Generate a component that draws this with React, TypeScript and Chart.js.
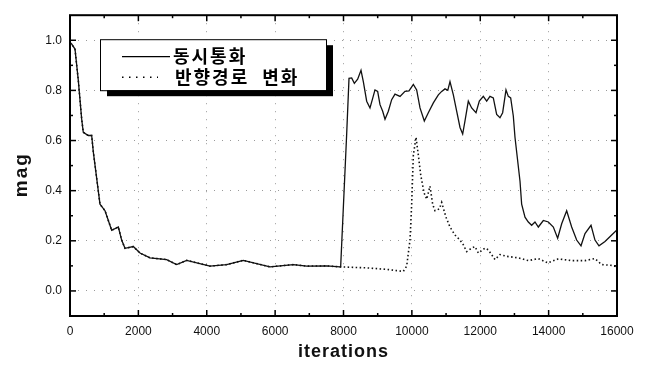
import React, { useEffect, useRef } from 'react';
import { Chart, registerables } from 'chart.js';

Chart.register(...registerables);

// ---- data ----
const seriesNames = ['동시통화', '반향경로 변화'];
const xTitle = 'iterations';
const yTitle = 'mag';

// common start (both series coincide before ~7900 iterations)
const xStart = [0, 49, 146, 243, 342, 389, 535, 634, 682, 780, 877, 1024, 1219, 1414, 1511, 1609, 1852, 2048, 2340, 2828, 3120, 3413, 4095, 4583, 5069, 5850, 6532, 6923, 7500, 7898];
const yStart = [0.99, 0.985, 0.965, 0.84, 0.685, 0.633, 0.62, 0.62, 0.555, 0.45, 0.346, 0.32, 0.242, 0.255, 0.203, 0.17, 0.177, 0.151, 0.132, 0.125, 0.105, 0.122, 0.099, 0.105, 0.122, 0.096, 0.105, 0.099, 0.1, 0.096];

// 동시통화 (solid) after the jump
const xSolid = [7918, 8093, 8161, 8239, 8317, 8414, 8512, 8580, 8678, 8775, 8843, 8921, 8999, 9068, 9146, 9214, 9311, 9409, 9506, 9653, 9799, 9916, 10043, 10140, 10238, 10364, 10481, 10628, 10774, 10872, 10969, 11050, 11115, 11213, 11310, 11408, 11486, 11554, 11651, 11749, 11876, 11973, 12090, 12188, 12285, 12382, 12480, 12577, 12655, 12753, 12821, 12890, 12967, 13016, 13163, 13211, 13309, 13406, 13504, 13601, 13699, 13845, 13992, 14138, 14264, 14382, 14528, 14674, 14820, 14947, 15064, 15240, 15356, 15473, 15649, 15844, 15990];
const ySolid = [0.1, 0.626, 0.848, 0.85, 0.828, 0.845, 0.88, 0.835, 0.757, 0.73, 0.763, 0.802, 0.796, 0.743, 0.717, 0.685, 0.717, 0.763, 0.785, 0.776, 0.796, 0.798, 0.824, 0.802, 0.73, 0.678, 0.711, 0.75, 0.782, 0.796, 0.806, 0.8, 0.835, 0.782, 0.717, 0.652, 0.626, 0.678, 0.757, 0.73, 0.711, 0.757, 0.776, 0.757, 0.776, 0.77, 0.704, 0.691, 0.711, 0.802, 0.776, 0.77, 0.698, 0.613, 0.4375, 0.346, 0.294, 0.275, 0.262, 0.275, 0.255, 0.281, 0.275, 0.255, 0.21, 0.268, 0.32, 0.255, 0.203, 0.18, 0.229, 0.262, 0.203, 0.18, 0.197, 0.223, 0.242];

// 반향경로 변화 (dotted) after the common part
const xDot = [8678, 9262, 9750, 9848, 9945, 9994, 10043, 10121, 10189, 10257, 10355, 10433, 10530, 10608, 10676, 10803, 10872, 10998, 11115, 11261, 11408, 11505, 11603, 11749, 11846, 11944, 12139, 12236, 12431, 12577, 12773, 13114, 13406, 13699, 13972, 14284, 14674, 15064, 15356, 15552, 15844, 15990];
const yDot = [0.092, 0.086, 0.078, 0.099, 0.203, 0.346, 0.542, 0.613, 0.542, 0.464, 0.392, 0.366, 0.418, 0.346, 0.32, 0.327, 0.353, 0.294, 0.255, 0.223, 0.203, 0.184, 0.157, 0.171, 0.177, 0.151, 0.171, 0.164, 0.125, 0.145, 0.138, 0.132, 0.121, 0.129, 0.112, 0.128, 0.121, 0.121, 0.129, 0.105, 0.102, 0.096];

const xTicks = [0, 2000, 4000, 6000, 8000, 10000, 12000, 14000, 16000];
const xMinor = [1000, 3000, 5000, 7000, 9000, 11000, 13000, 15000];
const yTicks = [0, 0.2, 0.4, 0.6, 0.8, 1.0];
const yMinor = [0.1, 0.3, 0.5, 0.7, 0.9];

const pts = (xs: number[], ys: number[]) => xs.map((x, i) => ({ x, y: ys[i] }));

const titleFont = 'bold 18px "Liberation Sans", Arial, sans-serif';

const framePlugin = {
  id: 'frame',
  afterDraw(chart: any) {
    const { ctx, chartArea: a, scales } = chart;
    const xs = scales.x;
    const ys = scales.y;
    ctx.save();
    ctx.strokeStyle = '#000';
    ctx.lineWidth = 1.5;
    const tick = (x1: number, y1: number, x2: number, y2: number) => {
      ctx.beginPath();
      ctx.moveTo(x1, y1);
      ctx.lineTo(x2, y2);
      ctx.stroke();
    };
    xTicks.forEach((v) => {
      const px = xs.getPixelForValue(v);
      tick(px, a.bottom, px, a.bottom - 6);
      tick(px, a.top, px, a.top + 6);
    });
    xMinor.forEach((v) => {
      const px = xs.getPixelForValue(v);
      tick(px, a.bottom, px, a.bottom - 3);
      tick(px, a.top, px, a.top + 3);
    });
    yTicks.forEach((v) => {
      const py = ys.getPixelForValue(v);
      tick(a.left, py, a.left + 6, py);
      tick(a.right, py, a.right - 6, py);
    });
    yMinor.forEach((v) => {
      const py = ys.getPixelForValue(v);
      tick(a.left, py, a.left + 3, py);
      tick(a.right, py, a.right - 3, py);
    });
    ctx.lineWidth = 2;
    ctx.strokeRect(a.left, a.top, a.right - a.left, a.bottom - a.top);

    // axis titles
    ctx.fillStyle = '#111';
    ctx.font = titleFont;
    (ctx as any).letterSpacing = '1px';
    ctx.textAlign = 'center';
    ctx.textBaseline = 'middle';
    ctx.fillText(xTitle, (a.left + a.right) / 2, a.bottom + 36);
    ctx.translate(22, (a.top + a.bottom) / 2 + 9);
    ctx.rotate(-Math.PI / 2);
    ctx.font = 'bold 19px "Liberation Sans", Arial, sans-serif';
    (ctx as any).letterSpacing = '2px';
    ctx.fillText(yTitle, 0, 0);
    ctx.restore();
  },
};

const legendPlugin = {
  id: 'boxLegend',
  afterDraw(chart: any) {
    const { ctx, chartArea: a } = chart;
    const bx = a.left + 30;
    const by = a.top + 24;
    const bw = 226;
    const bh = 51;
    ctx.save();
    ctx.fillStyle = '#000';
    ctx.fillRect(bx + 7, by + 6, bw, bh);
    ctx.fillStyle = '#fff';
    ctx.fillRect(bx, by, bw, bh);
    ctx.strokeStyle = '#000';
    ctx.lineWidth = 1;
    ctx.strokeRect(bx + 0.5, by + 0.5, bw, bh);

    // sample 1: solid
    ctx.lineWidth = 1.2;
    ctx.beginPath();
    ctx.moveTo(bx + 22, by + 17.5);
    ctx.lineTo(bx + 70, by + 17.5);
    ctx.stroke();
    // sample 2: dotted
    ctx.lineWidth = 1.5;
    ctx.setLineDash([1.5, 5.5]);
    ctx.beginPath();
    ctx.moveTo(bx + 22, by + 38);
    ctx.lineTo(bx + 58, by + 38);
    ctx.stroke();
    ctx.setLineDash([]);

    ctx.fillStyle = '#000';
    ctx.font = 'bold 18px "Noto Sans CJK KR"';
    (ctx as any).letterSpacing = '2px';
    ctx.textBaseline = 'middle';
    ctx.textAlign = 'left';
    ctx.fillText(seriesNames[0], bx + 73, by + 17);
    const words = seriesNames[1].split(' ');
    let tx = bx + 75;
    words.forEach((w) => {
      ctx.fillText(w, tx, by + 38);
      tx += ctx.measureText(w).width + 13;
    });
    ctx.restore();
  },
};

export default function App() {
  const ref = useRef<HTMLCanvasElement>(null);
  useEffect(() => {
    const tickFont = { family: '"Liberation Sans", Arial, sans-serif', size: 12 };
    const chart = new Chart(ref.current!, {
      type: 'line',
      data: {
        datasets: [
          {
            label: seriesNames[1],
            data: pts([...xStart, ...xDot], [...yStart, ...yDot]),
            borderColor: '#111',
            borderWidth: 1.6,
            borderDash: [1.5, 2.5],
            pointRadius: 0,
            tension: 0,
            fill: false,
          },
          {
            label: seriesNames[0],
            data: pts([...xStart, ...xSolid], [...yStart, ...ySolid]),
            borderColor: '#111',
            borderWidth: 1.3,
            pointRadius: 0,
            tension: 0,
            fill: false,
          },
        ],
      },
      options: {
        animation: false,
        responsive: false,
        maintainAspectRatio: false,
        layout: { padding: { top: 10, right: 33, left: 0, bottom: 0 } },
        plugins: { legend: { display: false }, tooltip: { enabled: false } },
        scales: {
          x: {
            type: 'linear',
            min: 0,
            max: 16000,
            afterBuildTicks: (s: any) => {
              s.ticks = xTicks.map((v) => ({ value: v }));
            },
            afterFit: (s: any) => {
              s.height = 49;
            },
            ticks: {
              callback: (v: any) => String(v),
              font: tickFont,
              color: '#111',
              padding: 8,
              maxRotation: 0,
              autoSkip: false,
            },
            grid: { color: '#9a9a9a', lineWidth: 1, drawTicks: false },
            border: { display: false, dash: [1, 7] },
          },
          y: {
            type: 'linear',
            min: -0.1,
            max: 1.1,
            afterBuildTicks: (s: any) => {
              s.ticks = yTicks.map((v) => ({ value: v }));
            },
            afterFit: (s: any) => {
              s.width = 70;
            },
            ticks: {
              callback: (v: any) => Number(v).toFixed(1),
              font: tickFont,
              color: '#111',
              padding: 8,
            },
            grid: { color: '#9a9a9a', lineWidth: 1, drawTicks: false },
            border: { display: false, dash: [1, 7] },
          },
        },
      } as any,
      plugins: [framePlugin, legendPlugin],
    });
    return () => chart.destroy();
  }, []);
  return (
    <div style={{ position: 'fixed', left: 0, top: 0, width: 650, height: 365, background: '#fff' }}>
      <canvas ref={ref} width={650} height={365} style={{ display: 'block' }} />
    </div>
  );
}
